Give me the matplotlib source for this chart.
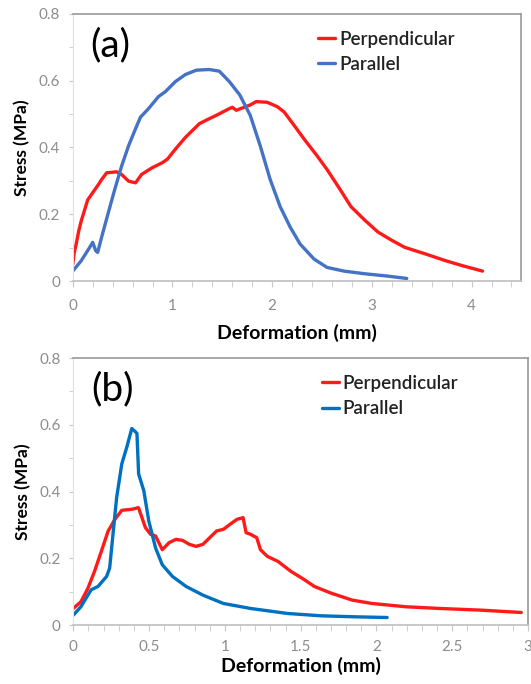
import matplotlib.pyplot as plt
from matplotlib.ticker import MultipleLocator

plt.rcParams['font.family'] = ['Lato', 'DejaVu Sans']

# panel (a)
a_perp_x = [0, 0.015, 0.034, 0.06, 0.085, 0.15, 0.22, 0.26, 0.29, 0.34, 0.44, 0.49, 0.56, 0.63,
            0.69, 0.795, 0.897, 0.95, 1.03, 1.13, 1.27, 1.37, 1.44, 1.57, 1.6, 1.64, 1.78,
            1.84, 1.95, 2.05, 2.12, 2.22, 2.32, 2.45, 2.55, 2.66, 2.79, 2.93, 3.06, 3.2,
            3.33, 3.54, 3.74, 3.91, 4.11]
a_perp_y = [0.05, 0.085, 0.11, 0.15, 0.18, 0.243, 0.273, 0.29, 0.304, 0.324, 0.327, 0.319,
            0.299, 0.294, 0.319, 0.339, 0.354, 0.365, 0.395, 0.43, 0.471, 0.486, 0.496, 0.516,
            0.52, 0.511, 0.527, 0.537, 0.535, 0.522, 0.506, 0.466, 0.425, 0.375, 0.334, 0.284,
            0.223, 0.182, 0.147, 0.122, 0.101, 0.081, 0.061, 0.046, 0.03]
a_par_x = [0, 0.085, 0.17, 0.2, 0.23, 0.25, 0.29, 0.355, 0.42, 0.49, 0.56, 0.63, 0.68, 0.71,
           0.76, 0.86, 0.93, 1.03, 1.13, 1.24, 1.37, 1.47, 1.57, 1.675, 1.78, 1.88, 1.98,
           2.08, 2.18, 2.28, 2.42, 2.55, 2.72, 2.93, 3.16, 3.35]
a_par_y = [0.03, 0.061, 0.101, 0.116, 0.091, 0.086, 0.132, 0.203, 0.273, 0.344, 0.405, 0.456,
           0.491, 0.5, 0.516, 0.552, 0.567, 0.597, 0.618, 0.631, 0.633, 0.628, 0.597, 0.557,
           0.496, 0.405, 0.304, 0.223, 0.162, 0.111, 0.066, 0.041, 0.03, 0.022, 0.015, 0.008]

# panel (b)
b_perp_x = [0, 0.05, 0.096, 0.14, 0.185, 0.23, 0.275, 0.32, 0.386, 0.43, 0.453, 0.476, 0.51,
            0.543, 0.587, 0.632, 0.677, 0.72, 0.766, 0.81, 0.855, 0.9, 0.945, 0.99, 1.034,
            1.08, 1.12, 1.14, 1.17, 1.21, 1.235, 1.28, 1.35, 1.436, 1.525, 1.59, 1.7, 1.84,
            1.97, 2.196, 2.42, 2.69, 2.955]
b_perp_y = [0.05, 0.07, 0.11, 0.161, 0.221, 0.282, 0.317, 0.344, 0.347, 0.352, 0.322, 0.292,
            0.272, 0.267, 0.226, 0.247, 0.257, 0.254, 0.242, 0.236, 0.242, 0.262, 0.282,
            0.287, 0.302, 0.317, 0.322, 0.277, 0.272, 0.262, 0.226, 0.206, 0.191, 0.161,
            0.136, 0.116, 0.096, 0.075, 0.065, 0.055, 0.05, 0.045, 0.038]
b_par_x = [0, 0.05, 0.118, 0.163, 0.22, 0.24, 0.264, 0.286, 0.32, 0.353, 0.386, 0.41, 0.42,
           0.431, 0.465, 0.498, 0.543, 0.587, 0.654, 0.744, 0.855, 0.99, 1.17, 1.414, 1.637,
           1.86, 2.07]
b_par_y = [0.03, 0.055, 0.106, 0.116, 0.146, 0.171, 0.282, 0.382, 0.483, 0.533, 0.589, 0.579,
           0.574, 0.453, 0.403, 0.312, 0.231, 0.181, 0.146, 0.116, 0.09, 0.065, 0.05, 0.035,
           0.028, 0.025, 0.023]

RED = "#ff1a1a"
tick_gray = "#8c8c8c"

fig = plt.figure(figsize=(5.31, 6.84), dpi=100)
ax1 = fig.add_axes([0.137, 0.589, 0.845, 0.391])
ax2 = fig.add_axes([0.138, 0.086, 0.8565, 0.3906])

panels = [
    (ax1, "(a)", a_perp_x, a_perp_y, a_par_x, a_par_y, "#4472c4", 4.5, 1, 0.2, 8, 9),
    (ax2, "(b)", b_perp_x, b_perp_y, b_par_x, b_par_y, "#0070c0", 3.0, 0.5, 0.1, 2, 7),
]

for ax, tag, px, py, qx, qy, blue, xmax, xmaj, xmin, lpad, tpad in panels:
    ax.plot(px, py, color=RED, lw=2.4, label="Perpendicular", solid_capstyle="round")
    ax.plot(qx, qy, color=blue, lw=2.4, label="Parallel", solid_capstyle="round")
    ax.set_xlim(0, xmax)
    ax.set_ylim(0, 0.8)
    ax.xaxis.set_major_locator(MultipleLocator(xmaj))
    ax.xaxis.set_minor_locator(MultipleLocator(xmin))
    ax.yaxis.set_major_locator(MultipleLocator(0.2))
    ax.yaxis.set_minor_locator(MultipleLocator(0.1))
    ax.set_xticklabels([f"{v:g}" for v in ax.get_xticks()])
    ax.set_yticklabels([f"{v:g}" for v in ax.get_yticks()])
    ax.tick_params(axis="both", which="both", colors="#c8c8c8", labelcolor=tick_gray,
                   labelsize=11, direction="out")
    ax.tick_params(which="major", length=4, pad=6)
    ax.tick_params(axis="x", which="major", pad=tpad)
    ax.tick_params(which="minor", length=4)
    ax.tick_params(axis="y", which="both", length=3)
    ax.spines["left"].set_color("#e0e0e0")
    ax.spines["bottom"].set_color("#bfbfbf")
    ax.spines["bottom"].set_linewidth(1.2)
    for s in ("top", "right"):
        ax.spines[s].set_color("#9a9a9a")
        ax.spines[s].set_linewidth(1.2)
    ax.set_xlabel("Deformation (mm)", fontsize=14, fontweight="bold", labelpad=lpad)
    ax.set_ylabel("Stress (MPa)", fontsize=12.5, fontweight="bold", labelpad=6)
    ax.text(0.04, 0.95, tag, transform=ax.transAxes, fontsize=28, va="top", ha="left")
    leg = ax.legend(loc="upper left", bbox_to_anchor=(0.51, 1.0), frameon=False,
                    fontsize=13.5, handlelength=0.9, handletextpad=0.2, labelspacing=0.45)
    for t in leg.get_texts():
        t.set_fontweight("semibold")
        t.set_color("#222222")

fig.savefig("out.png", dpi=100)
